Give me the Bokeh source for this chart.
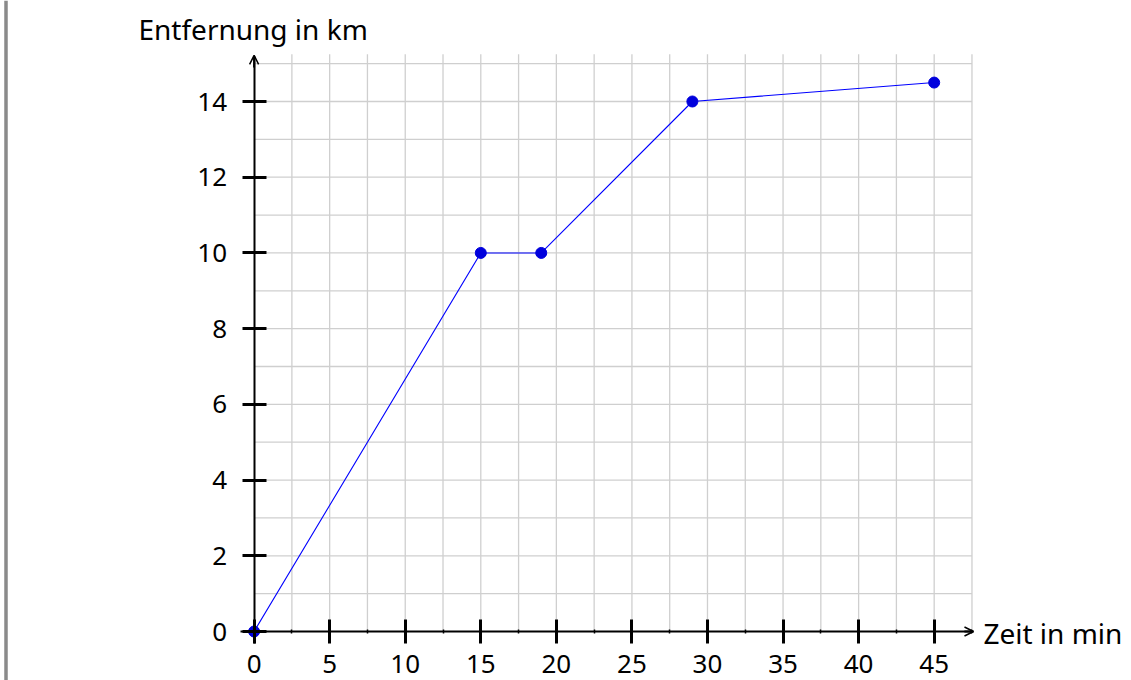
from bokeh.plotting import figure
from bokeh.models import (LinearAxis, FixedTicker, Arrow, OpenHead, Label, Range1d,
                          ColumnDataSource, Span)
from bokeh.embed import file_html
from bokeh.resources import INLINE
import numpy as np

# data
zeit_min = [0, 15, 19, 29, 45]
entfernung_km = [0, 10, 10, 14, 14.5]
x_ticks = [0, 5, 10, 15, 20, 25, 30, 35, 40, 45]
y_ticks = [0, 2, 4, 6, 8, 10, 12, 14]
x_label = "Zeit in min"
y_label = "Entfernung in km"

FONT = "Noto Sans"
W, H = 1128, 680
SX, SY = 15.113, 37.857      # px per unit
X0, Y0 = 253.6, 631.0        # pixel of origin

p = figure(width=W, height=H, output_backend="svg", toolbar_location=None,
           x_range=Range1d(-X0 / SX, (W - X0) / SX), y_range=Range1d((Y0 - H) / SY, Y0 / SY),
           x_axis_location=None, y_axis_location=None, title=None,
           min_border=0, min_border_left=0, min_border_right=0, min_border_top=0, min_border_bottom=0)
p.outline_line_color = None
p.xgrid.visible = False
p.ygrid.visible = False

# page side bar
p.add_layout(Span(location=(5.5 - X0) / SX, dimension="height", line_color="#8a8a8a", line_width=3.5))

# grid (style positions)
gx = np.arange(2.5, 47.51, 2.5)
gy = np.arange(1, 15.01, 1)
p.segment(x0=gx, y0=0, x1=gx, y1=15.25, line_color="#cfcfcf", line_width=1.3)
p.segment(x0=0, y0=gy, x1=47.5, y1=gy, line_color="#cfcfcf", line_width=1.3)

# axes
xa = LinearAxis(fixed_location=0, bounds=(-0.9, 47.6),
                ticker=FixedTicker(ticks=x_ticks, minor_ticks=list(np.arange(2.5, 47.6, 5))))
xa.axis_line_width = 2
xa.major_tick_line_width = 3
xa.major_tick_in = 12
xa.major_tick_out = 12
xa.minor_tick_in = 2
xa.minor_tick_out = 2
xa.minor_tick_line_width = 1.5
xa.major_label_standoff = 11
xa.major_label_text_font = FONT
xa.major_label_text_font_size = "26px"
xa.major_label_text_color = "black"
p.add_layout(xa, "below")

ya = LinearAxis(fixed_location=0, bounds=(-0.32, 15.2),
                ticker=FixedTicker(ticks=y_ticks, minor_ticks=[]))
ya.axis_line_width = 2
ya.major_tick_line_width = 3
ya.major_tick_in = 12
ya.major_tick_out = 12
ya.minor_tick_in = 0
ya.minor_tick_out = 0
ya.major_label_standoff = 15
ya.major_label_text_font = FONT
ya.major_label_text_font_size = "26px"
ya.major_label_text_color = "black"
p.add_layout(ya, "left")

# arrow heads
p.add_layout(Arrow(end=OpenHead(size=9, line_width=1.5, line_color="black"),
                   x_start=47.0, y_start=0, x_end=47.6, y_end=0, line_width=2, line_color="black"))
p.add_layout(Arrow(end=OpenHead(size=9, line_width=1.5, line_color="black"),
                   x_start=0, y_start=14.9, x_end=0, y_end=15.22, line_width=2, line_color="black"))

# data
src = ColumnDataSource(dict(x=zeit_min, y=entfernung_km))
p.line("x", "y", source=src, line_color="#0000ff", line_width=1.1)
p.scatter("x", "y", source=src, size=11, fill_color="#0000dd", line_color="#0000dd")

# axis titles
p.add_layout(Label(x=-7.65, y=15.92, text=y_label, text_font=FONT, text_font_size="28px",
                   text_color="black", text_baseline="alphabetic", text_align="left"))
p.add_layout(Label(x=48.26, y=-0.03, text=x_label, text_font=FONT, text_font_size="28px",
                   text_color="black", text_baseline="alphabetic", text_align="left"))

open("out.html", "w").write(file_html(p, INLINE))
